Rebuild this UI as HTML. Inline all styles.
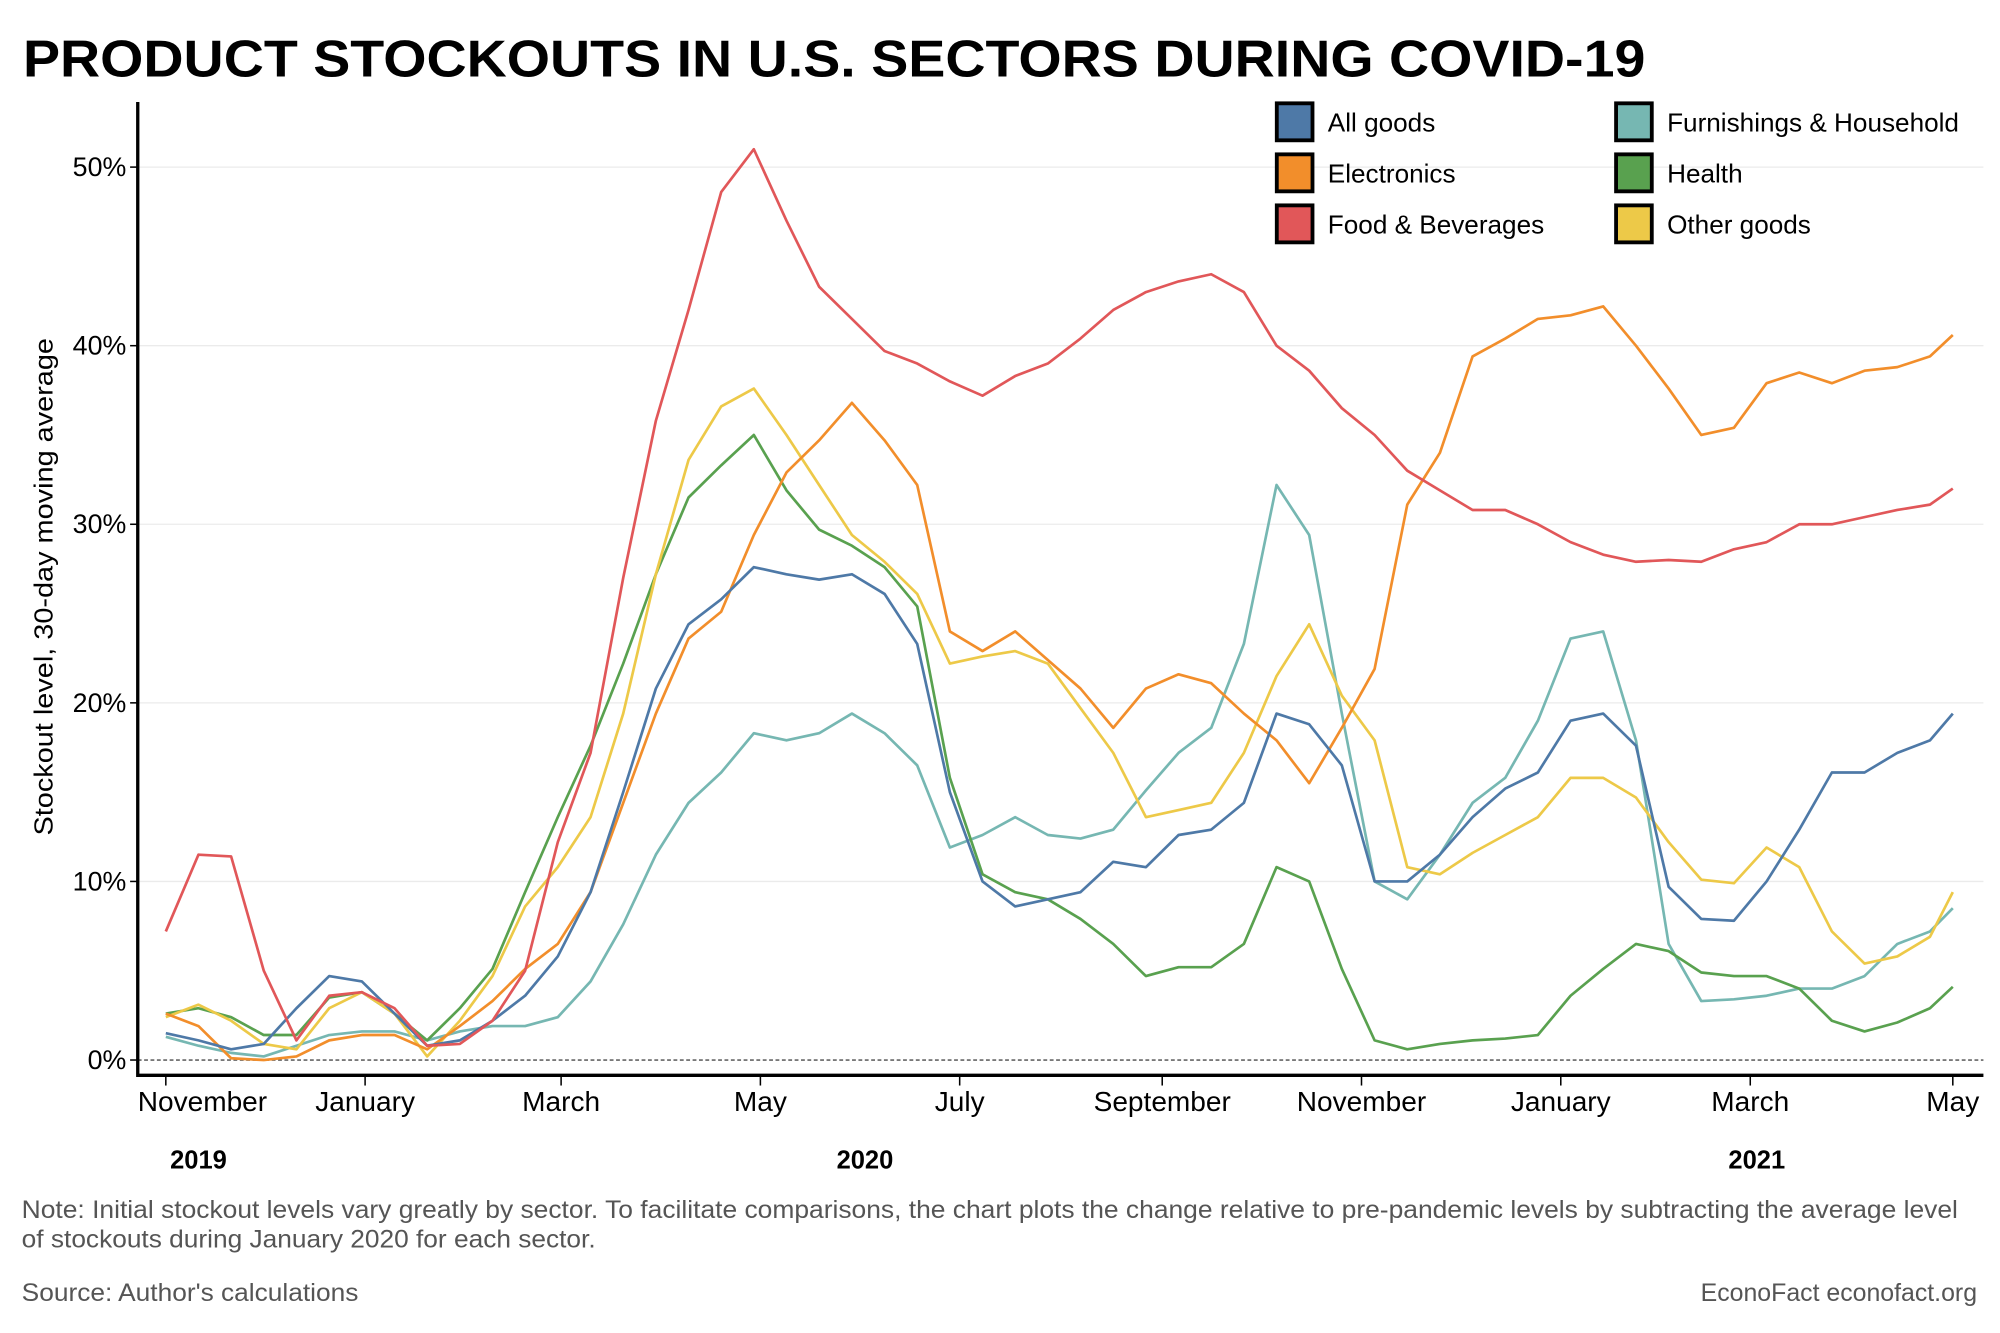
<!DOCTYPE html>
<html><head><meta charset="utf-8"><style>
html,body{margin:0;padding:0;background:#fff;}
svg{display:block;font-family:"Liberation Sans",Arial,sans-serif;}
</style></head><body>
<svg id="chart" width="2000" height="1333" viewBox="0 0 1568 1045" preserveAspectRatio="none" xmlns="http://www.w3.org/2000/svg">
<rect width="1568" height="1045" fill="#fff"/>
<text x="18" y="60" font-size="41" font-weight="bold" textLength="1272" lengthAdjust="spacingAndGlyphs">PRODUCT STOCKOUTS IN U.S. SECTORS DURING COVID-19</text>
<g id="grid"></g>
<g id="series"></g>
<g id="axes"></g>
<text transform="translate(41,460) rotate(-90)" text-anchor="middle" font-size="20" textLength="390" lengthAdjust="spacingAndGlyphs">Stockout level, 30-day moving average</text>
<g id="legend"></g>
<text x="17" y="955" font-size="19.5" fill="#555" textLength="1518" lengthAdjust="spacingAndGlyphs">Note: Initial stockout levels vary greatly by sector. To facilitate comparisons, the chart plots the change relative to pre-pandemic levels by subtracting the average level</text>
<text x="17" y="978" font-size="19.5" fill="#555" textLength="450" lengthAdjust="spacingAndGlyphs">of stockouts during January 2020 for each sector.</text>
<text x="17" y="1020" font-size="19.5" fill="#555" textLength="264" lengthAdjust="spacingAndGlyphs">Source: Author's calculations</text>
<text x="1550" y="1020" font-size="19.5" fill="#555" text-anchor="end">EconoFact  econofact.org</text>
</svg>
<script>
const days = [0,10,20,30,40,50,60,70,80,90,100,110,120,130,140,150,160,170,180,190,200,210,220,230,240,250,260,270,280,290,300,310,320,330,340,350,360,370,380,390,400,410,420,430,440,450,460,470,480,490,500,510,520,530,540,547];
const food = [7.2,11.5,11.4,5,1.1,3.6,3.8,2.9,0.8,0.9,2.2,5,12.2,17.2,27,35.8,42,48.6,51,47,43.3,41.5,39.7,39,38,37.2,38.3,39,40.4,42,43,43.6,44,43,40,38.6,36.5,35,33,31.9,30.8,30.8,30,29,28.3,27.9,28,27.9,28.6,29,30,30,30.4,30.8,31.1,32];
const electronics = [2.6,1.9,0.1,0,0.2,1.1,1.4,1.4,0.6,1.9,3.3,5.1,6.5,9.4,14.4,19.4,23.6,25.1,29.4,32.9,34.7,36.8,34.7,32.2,24,22.9,24,22.4,20.8,18.6,20.8,21.6,21.1,19.4,17.9,15.5,18.6,21.9,31.1,34,39.4,40.4,41.5,41.7,42.2,40,37.6,35,35.4,37.9,38.5,37.9,38.6,38.8,39.4,40.6];
const allGoods = [1.5,1.1,0.6,0.9,2.9,4.7,4.4,2.6,0.8,1.1,2.2,3.6,5.8,9.4,15,20.8,24.4,25.8,27.6,27.2,26.9,27.2,26.1,23.3,15,10,8.6,9,9.4,11.1,10.8,12.6,12.9,14.4,19.4,18.8,16.5,10,10,11.5,13.6,15.2,16.1,19,19.4,17.6,9.7,7.9,7.8,10,12.9,16.1,16.1,17.2,17.9,19.4];
const furnishings = [1.3,0.8,0.4,0.2,0.8,1.4,1.6,1.6,1.1,1.6,1.9,1.9,2.4,4.4,7.6,11.5,14.4,16.1,18.3,17.9,18.3,19.4,18.3,16.5,11.9,12.6,13.6,12.6,12.4,12.9,15.1,17.2,18.6,23.3,32.2,29.4,19.4,10,9,11.5,14.4,15.8,19,23.6,24,17.9,6.5,3.3,3.4,3.6,4,4,4.7,6.5,7.2,8.5];
const health = [2.6,2.9,2.4,1.4,1.4,3.5,3.8,2.6,1.1,2.9,5.1,9.4,13.6,17.6,22.2,27.2,31.5,33.3,35,31.9,29.7,28.8,27.6,25.4,15.8,10.4,9.4,9,7.9,6.5,4.7,5.2,5.2,6.5,10.8,10,5.1,1.1,0.6,0.9,1.1,1.2,1.4,3.6,5.1,6.5,6.1,4.9,4.7,4.7,4,2.2,1.6,2.1,2.9,4.1];
const other = [2.4,3.1,2.2,0.9,0.6,2.9,3.8,2.6,0.2,2.2,4.7,8.6,10.8,13.6,19.4,27.2,33.6,36.6,37.6,35,32.2,29.4,27.9,26.1,22.2,22.6,22.9,22.2,19.7,17.2,13.6,14,14.4,17.2,21.5,24.4,20.4,17.9,10.8,10.4,11.6,12.6,13.6,15.8,15.8,14.7,12.2,10.1,9.9,11.9,10.8,7.2,5.4,5.8,6.9,9.4];
const yTicks = [0,10,20,30,40,50];
const monthLabels = ["November","January","March","May","July","September","November","January","March","May"];
const monthDays = [0,61,121,182,243,305,366,427,485,547];
const yearLabels = ["2019","2020","2021"];
const yearDays = [10,214,487];
const seriesNames = ["Furnishings & Household","Health","Other goods","Electronics","All goods","Food & Beverages"];

const NS="http://www.w3.org/2000/svg";
const x = d => 130 + d*(1401/547);
const y = v => 831 - v*14;
function mk(tag, attrs, parent){const e=document.createElementNS(NS,tag);for(const k in attrs)e.setAttribute(k,attrs[k]);parent.appendChild(e);return e;}
const grid=document.getElementById('grid'), axes=document.getElementById('axes'), ser=document.getElementById('series'), leg=document.getElementById('legend');

yTicks.forEach(t=>{
  if(t>0){const g=mk('line',{x1:108,x2:1555,y1:y(t),y2:y(t),stroke:'#ebebeb','stroke-width':1},grid);
  
  }
  const tk=mk('line',{x1:102,x2:108,y1:y(t),y2:y(t),stroke:'#000','stroke-width':1.2},axes);
  
  
  const lb=mk('text',{x:99,y:y(t)+7,'text-anchor':'end','font-size':21},axes);
  lb.textContent=t+'%';
  
  
});
const zl=mk('line',{x1:108,x2:1555,y1:y(0),y2:y(0),stroke:'#666','stroke-width':1.3,'stroke-dasharray':'3,2'},grid);



const colors=["#76b7b2","#59a14f","#edc948","#f28e2b","#4e79a7","#e15759"];
const data=[furnishings,health,other,electronics,allGoods,food];
data.forEach((arr,i)=>{
  const p=mk('polyline',{points:arr.map((v,j)=>x(days[j]).toFixed(1)+','+y(v).toFixed(1)).join(' '),fill:'none',stroke:colors[i],'stroke-width':2.1,'stroke-linejoin':'round'},ser);
  
  
});

const ax=mk('path',{d:'M108,80 V843 H1555',fill:'none',stroke:'#000','stroke-width':2.6},axes);


monthLabels.forEach((m,i)=>{
  const t=mk('line',{x1:x(monthDays[i]),x2:x(monthDays[i]),y1:844,y2:851,stroke:'#000','stroke-width':1.2},axes);
  
  
  const first=i===0;
  const l=mk('text',{x:first?108:x(monthDays[i]),y:871,'text-anchor':first?'start':'middle','font-size':22},axes);
  l.textContent=m;
  
  
});
yearLabels.forEach((yl,i)=>{
  const l=mk('text',{x:x(yearDays[i]),y:916,'text-anchor':'middle','font-size':20,'font-weight':'bold'},axes);
  l.textContent=yl;
  
  
});

const legOrder=[["All goods","#4e79a7"],["Electronics","#f28e2b"],["Food & Beverages","#e15759"],["Furnishings & Household","#76b7b2"],["Health","#59a14f"],["Other goods","#edc948"]];
legOrder.forEach((it,i)=>{
  const col=i<3?0:1, row=i%3;
  const bx=col?1267:1001, by=81+row*40;
  const g=mk('g',{},leg);
  
  
  mk('rect',{x:bx,y:by,width:28,height:29,fill:it[1],stroke:'#000','stroke-width':3},g);
  const t=mk('text',{x:bx+40,y:by+22,'font-size':20.5},g);
  t.textContent=it[0];
});
</script>
</body></html>
